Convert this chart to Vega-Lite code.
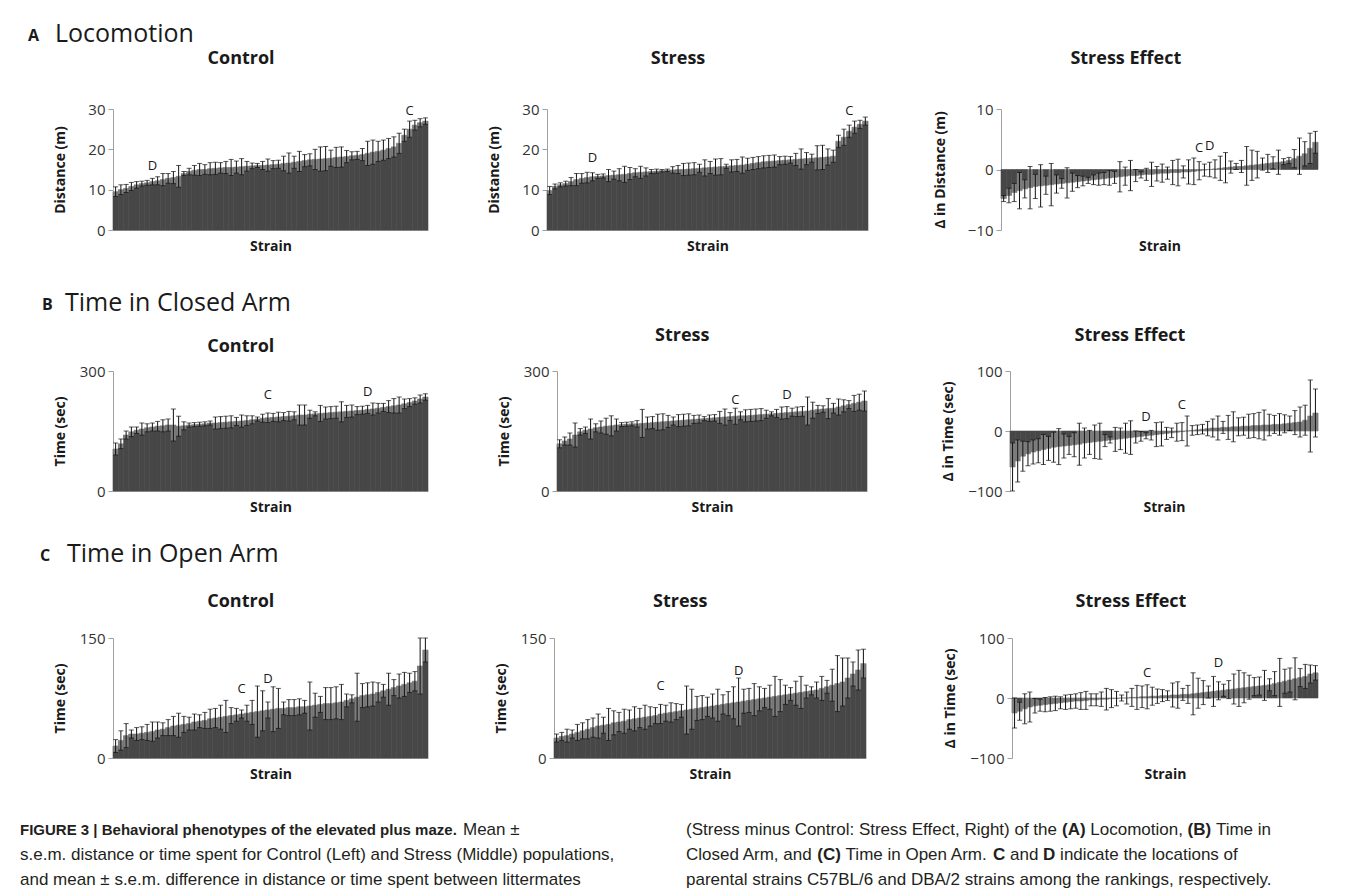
{
"$schema": "https://vega.github.io/schema/vega-lite/v6.json",
"background": "white",
"padding": {"left": 20, "top": 22, "right": 5, "bottom": 5},
"config": {
  "font": "Open Sans",
  "view": {"stroke": null},
  "title": {"font": "Open Sans", "fontSize": 18, "fontWeight": "bold", "color": "#1a1a1a", "anchor": "middle", "frame": "bounds"},
  "axis": {"labelFont": "Open Sans", "titleFont": "Open Sans", "labelColor": "#333333", "titleColor": "#1a1a1a", "domainColor": "#a0a0a0", "tickColor": "#a0a0a0", "grid": false, "labelFontSize": 15, "titleFontSize": 14, "titleFontWeight": "bold"},
  "axisX": {"labels": false, "ticks": false, "titlePadding": 9},
  "axisY": {"tickSize": 5, "labelPadding": 3, "titlePadding": 12},
  "text": {"font": "Open Sans", "fontSize": 13, "color": "#1a1a1a"}
},
"datasets": {
"A1": [{"s":1,"m":9.5,"e":1.2},{"s":2,"m":10,"e":1.2},{"s":3,"m":10.3,"e":1.0},{"s":4,"m":10.8,"e":1.0},{"s":5,"m":11.2,"e":0.8},{"s":6,"m":11.5,"e":0.6},{"s":7,"m":11.7,"e":0.6},{"s":8,"m":12,"e":0.8},{"s":9,"m":12.2,"e":1},{"s":10,"m":12.5,"e":1.5},{"s":11,"m":12.8,"e":1.2},{"s":12,"m":13,"e":1.5},{"s":13,"m":13.3,"e":2.7},{"s":14,"m":14,"e":0.5},{"s":15,"m":14.5,"e":0.8},{"s":16,"m":14.8,"e":1.2},{"s":17,"m":15,"e":1.5},{"s":18,"m":15,"e":1.2},{"s":19,"m":15.2,"e":1.5},{"s":20,"m":15.3,"e":1.5},{"s":21,"m":15.4,"e":1.3},{"s":22,"m":15.5,"e":1.5},{"s":23,"m":15.5,"e":2},{"s":24,"m":15.6,"e":1.5},{"s":25,"m":15.7,"e":2},{"s":26,"m":15.8,"e":1.2},{"s":27,"m":15.9,"e":0.7},{"s":28,"m":16,"e":0.5},{"s":29,"m":16,"e":1},{"s":30,"m":16.1,"e":1.5},{"s":31,"m":16.2,"e":1},{"s":32,"m":16.3,"e":1},{"s":33,"m":16.5,"e":1.8},{"s":34,"m":16.6,"e":2.5},{"s":35,"m":16.8,"e":1.5},{"s":36,"m":17,"e":2.5},{"s":37,"m":17.2,"e":1.5},{"s":38,"m":17.4,"e":1.5},{"s":39,"m":17.5,"e":2.5},{"s":40,"m":17.6,"e":3},{"s":41,"m":17.7,"e":3},{"s":42,"m":17.8,"e":2},{"s":43,"m":18,"e":2.5},{"s":44,"m":18.1,"e":2.5},{"s":45,"m":18.2,"e":1.5},{"s":46,"m":18.4,"e":1},{"s":47,"m":18.5,"e":1},{"s":48,"m":18.7,"e":1.5},{"s":49,"m":19,"e":3},{"s":50,"m":19.3,"e":3},{"s":51,"m":19.5,"e":2.5},{"s":52,"m":19.8,"e":2.5},{"s":53,"m":20.2,"e":2.5},{"s":54,"m":20.6,"e":2.5},{"s":55,"m":21.5,"e":2.5},{"s":56,"m":23.5,"e":1.5},{"s":57,"m":25,"e":2},{"s":58,"m":26,"e":1.2},{"s":59,"m":26.6,"e":1},{"s":60,"m":27,"e":0.8}],
"A2": [{"s":1,"m":9.8,"e":1.0},{"s":2,"m":10.8,"e":0.6},{"s":3,"m":11.2,"e":0.5},{"s":4,"m":11.5,"e":0.6},{"s":5,"m":12,"e":1},{"s":6,"m":12.5,"e":1.5},{"s":7,"m":12.8,"e":1.2},{"s":8,"m":13,"e":1.3},{"s":9,"m":13.2,"e":1},{"s":10,"m":13.3,"e":0.5},{"s":11,"m":13.4,"e":0.5},{"s":12,"m":13.5,"e":1.5},{"s":13,"m":13.6,"e":1},{"s":14,"m":13.7,"e":1.5},{"s":15,"m":13.8,"e":2},{"s":16,"m":14,"e":1.5},{"s":17,"m":14.2,"e":1},{"s":18,"m":14.3,"e":1.5},{"s":19,"m":14.4,"e":1},{"s":20,"m":14.5,"e":0.5},{"s":21,"m":14.6,"e":0.5},{"s":22,"m":14.7,"e":0.3},{"s":23,"m":14.8,"e":0.3},{"s":24,"m":14.9,"e":0.8},{"s":25,"m":15,"e":1},{"s":26,"m":15,"e":1.5},{"s":27,"m":15.1,"e":1.5},{"s":28,"m":15.2,"e":1.5},{"s":29,"m":15.3,"e":1},{"s":30,"m":15.4,"e":2},{"s":31,"m":15.5,"e":1.5},{"s":32,"m":15.6,"e":2},{"s":33,"m":15.7,"e":2},{"s":34,"m":15.8,"e":0.5},{"s":35,"m":15.9,"e":1.5},{"s":36,"m":16,"e":1.5},{"s":37,"m":16.1,"e":2},{"s":38,"m":16.3,"e":1.5},{"s":39,"m":16.5,"e":1.5},{"s":40,"m":16.7,"e":1.5},{"s":41,"m":16.9,"e":1.5},{"s":42,"m":17,"e":1.5},{"s":43,"m":17.1,"e":1.5},{"s":44,"m":17.2,"e":1},{"s":45,"m":17.3,"e":1},{"s":46,"m":17.4,"e":0.8},{"s":47,"m":17.5,"e":1.5},{"s":48,"m":17.6,"e":2.5},{"s":49,"m":17.7,"e":1.5},{"s":50,"m":17.8,"e":1},{"s":51,"m":17.9,"e":3},{"s":52,"m":18,"e":3},{"s":53,"m":18.1,"e":2},{"s":54,"m":18.3,"e":1.5},{"s":55,"m":22,"e":1.5},{"s":56,"m":23,"e":2},{"s":57,"m":24.5,"e":1.5},{"s":58,"m":25.5,"e":1.5},{"s":59,"m":26.2,"e":1},{"s":60,"m":27,"e":1}],
"A3": [{"s":1,"m":-4.8,"e":0.5},{"s":2,"m":-4.3,"e":1.2},{"s":3,"m":-3.8,"e":1.5},{"s":4,"m":-3.5,"e":3},{"s":5,"m":-3.2,"e":1.5},{"s":6,"m":-3,"e":3.5},{"s":7,"m":-2.8,"e":2},{"s":8,"m":-2.7,"e":3.5},{"s":9,"m":-2.6,"e":1.5},{"s":10,"m":-2.5,"e":3.5},{"s":11,"m":-2.4,"e":1.5},{"s":12,"m":-2.3,"e":0.8},{"s":13,"m":-2.2,"e":2.5},{"s":14,"m":-2.1,"e":1.5},{"s":15,"m":-2,"e":1},{"s":16,"m":-1.9,"e":0.8},{"s":17,"m":-1.8,"e":0.5},{"s":18,"m":-1.7,"e":0.8},{"s":19,"m":-1.6,"e":1},{"s":20,"m":-1.5,"e":1},{"s":21,"m":-1.4,"e":1.2},{"s":22,"m":-1.3,"e":1},{"s":23,"m":-1.2,"e":2.5},{"s":24,"m":-1.1,"e":1.5},{"s":25,"m":-1,"e":2.5},{"s":26,"m":-1,"e":1},{"s":27,"m":-0.9,"e":0.5},{"s":28,"m":-0.8,"e":1},{"s":29,"m":-0.8,"e":2},{"s":30,"m":-0.7,"e":1.2},{"s":31,"m":-0.6,"e":1.5},{"s":32,"m":-0.6,"e":1},{"s":33,"m":-0.5,"e":2},{"s":34,"m":-0.5,"e":2.2},{"s":35,"m":-0.4,"e":1},{"s":36,"m":-0.4,"e":2},{"s":37,"m":-0.3,"e":2.2},{"s":38,"m":-0.2,"e":1.5},{"s":39,"m":-0.1,"e":1},{"s":40,"m":0,"e":1.2},{"s":41,"m":0.1,"e":1.5},{"s":42,"m":0.2,"e":2},{"s":43,"m":0.3,"e":2.5},{"s":44,"m":0.4,"e":1},{"s":45,"m":0.5,"e":0.5},{"s":46,"m":0.5,"e":1},{"s":47,"m":0.6,"e":3.2},{"s":48,"m":0.7,"e":2.5},{"s":49,"m":0.8,"e":2.2},{"s":50,"m":0.9,"e":1},{"s":51,"m":1,"e":1.5},{"s":52,"m":1.1,"e":1},{"s":53,"m":1.2,"e":2},{"s":54,"m":1.3,"e":0.5},{"s":55,"m":1.5,"e":0.5},{"s":56,"m":1.8,"e":1.5},{"s":57,"m":2.2,"e":3},{"s":58,"m":2.6,"e":2},{"s":59,"m":3.5,"e":2.5},{"s":60,"m":4.5,"e":1.8}],
"B1": [{"s":1,"m":105,"e":15},{"s":2,"m":118,"e":12},{"s":3,"m":140,"e":10},{"s":4,"m":148,"e":12},{"s":5,"m":152,"e":8},{"s":6,"m":155,"e":15},{"s":7,"m":158,"e":10},{"s":8,"m":160,"e":10},{"s":9,"m":162,"e":12},{"s":10,"m":163,"e":15},{"s":11,"m":165,"e":15},{"s":12,"m":165,"e":40},{"s":13,"m":162,"e":25},{"s":14,"m":163,"e":10},{"s":15,"m":165,"e":5},{"s":16,"m":166,"e":5},{"s":17,"m":167,"e":5},{"s":18,"m":168,"e":5},{"s":19,"m":170,"e":5},{"s":20,"m":170,"e":15},{"s":21,"m":171,"e":15},{"s":22,"m":172,"e":15},{"s":23,"m":173,"e":15},{"s":24,"m":174,"e":10},{"s":25,"m":175,"e":15},{"s":26,"m":176,"e":12},{"s":27,"m":178,"e":10},{"s":28,"m":180,"e":5},{"s":29,"m":182,"e":10},{"s":30,"m":183,"e":12},{"s":31,"m":184,"e":10},{"s":32,"m":185,"e":12},{"s":33,"m":186,"e":10},{"s":34,"m":187,"e":12},{"s":35,"m":188,"e":10},{"s":36,"m":190,"e":25},{"s":37,"m":190,"e":25},{"s":38,"m":192,"e":10},{"s":39,"m":193,"e":5},{"s":40,"m":194,"e":20},{"s":41,"m":195,"e":15},{"s":42,"m":196,"e":15},{"s":43,"m":197,"e":15},{"s":44,"m":198,"e":25},{"s":45,"m":199,"e":15},{"s":46,"m":200,"e":15},{"s":47,"m":201,"e":10},{"s":48,"m":202,"e":10},{"s":49,"m":204,"e":10},{"s":50,"m":205,"e":15},{"s":51,"m":207,"e":12},{"s":52,"m":209,"e":10},{"s":53,"m":211,"e":15},{"s":54,"m":213,"e":18},{"s":55,"m":215,"e":20},{"s":56,"m":218,"e":12},{"s":57,"m":221,"e":10},{"s":58,"m":225,"e":8},{"s":59,"m":230,"e":10},{"s":60,"m":235,"e":8}],
"B2": [{"s":1,"m":118,"e":10},{"s":2,"m":125,"e":10},{"s":3,"m":130,"e":15},{"s":4,"m":140,"e":30},{"s":5,"m":148,"e":8},{"s":6,"m":152,"e":8},{"s":7,"m":155,"e":25},{"s":8,"m":158,"e":10},{"s":9,"m":160,"e":15},{"s":10,"m":162,"e":20},{"s":11,"m":163,"e":25},{"s":12,"m":165,"e":15},{"s":13,"m":166,"e":5},{"s":14,"m":167,"e":5},{"s":15,"m":168,"e":5},{"s":16,"m":168,"e":8},{"s":17,"m":169,"e":35},{"s":18,"m":170,"e":15},{"s":19,"m":171,"e":15},{"s":20,"m":172,"e":20},{"s":21,"m":173,"e":20},{"s":22,"m":174,"e":15},{"s":23,"m":175,"e":10},{"s":24,"m":176,"e":15},{"s":25,"m":177,"e":15},{"s":26,"m":178,"e":15},{"s":27,"m":179,"e":10},{"s":28,"m":180,"e":10},{"s":29,"m":181,"e":5},{"s":30,"m":182,"e":8},{"s":31,"m":183,"e":8},{"s":32,"m":184,"e":15},{"s":33,"m":185,"e":20},{"s":34,"m":186,"e":10},{"s":35,"m":187,"e":20},{"s":36,"m":188,"e":10},{"s":37,"m":188,"e":15},{"s":38,"m":189,"e":15},{"s":39,"m":190,"e":15},{"s":40,"m":191,"e":15},{"s":41,"m":192,"e":10},{"s":42,"m":193,"e":5},{"s":43,"m":194,"e":10},{"s":44,"m":195,"e":15},{"s":45,"m":196,"e":15},{"s":46,"m":197,"e":10},{"s":47,"m":198,"e":12},{"s":48,"m":199,"e":12},{"s":49,"m":200,"e":35},{"s":50,"m":202,"e":20},{"s":51,"m":204,"e":10},{"s":52,"m":205,"e":8},{"s":53,"m":206,"e":25},{"s":54,"m":207,"e":12},{"s":55,"m":210,"e":20},{"s":56,"m":213,"e":15},{"s":57,"m":216,"e":10},{"s":58,"m":219,"e":20},{"s":59,"m":222,"e":20},{"s":60,"m":225,"e":25}],
"B3": [{"s":1,"m":-60,"e":40},{"s":2,"m":-50,"e":35},{"s":3,"m":-42,"e":25},{"s":4,"m":-38,"e":20},{"s":5,"m":-35,"e":20},{"s":6,"m":-33,"e":20},{"s":7,"m":-31,"e":25},{"s":8,"m":-29,"e":20},{"s":9,"m":-27,"e":25},{"s":10,"m":-26,"e":30},{"s":11,"m":-25,"e":20},{"s":12,"m":-24,"e":15},{"s":13,"m":-23,"e":20},{"s":14,"m":-22,"e":35},{"s":15,"m":-20,"e":25},{"s":16,"m":-19,"e":20},{"s":17,"m":-18,"e":28},{"s":18,"m":-17,"e":30},{"s":19,"m":-16,"e":10},{"s":20,"m":-15,"e":5},{"s":21,"m":-14,"e":20},{"s":22,"m":-13,"e":18},{"s":23,"m":-12,"e":25},{"s":24,"m":-11,"e":28},{"s":25,"m":-10,"e":10},{"s":26,"m":-9,"e":8},{"s":27,"m":-8,"e":5},{"s":28,"m":-7,"e":8},{"s":29,"m":-6,"e":20},{"s":30,"m":-5,"e":20},{"s":31,"m":-4,"e":10},{"s":32,"m":-3,"e":8},{"s":33,"m":-2,"e":15},{"s":34,"m":-1,"e":15},{"s":35,"m":0,"e":25},{"s":36,"m":1,"e":8},{"s":37,"m":2,"e":8},{"s":38,"m":3,"e":8},{"s":39,"m":4,"e":12},{"s":40,"m":5,"e":15},{"s":41,"m":5,"e":20},{"s":42,"m":6,"e":10},{"s":43,"m":6,"e":20},{"s":44,"m":7,"e":25},{"s":45,"m":7,"e":15},{"s":46,"m":8,"e":15},{"s":47,"m":8,"e":20},{"s":48,"m":9,"e":20},{"s":49,"m":9,"e":22},{"s":50,"m":10,"e":25},{"s":51,"m":10,"e":18},{"s":52,"m":11,"e":15},{"s":53,"m":11,"e":18},{"s":54,"m":12,"e":15},{"s":55,"m":13,"e":12},{"s":56,"m":14,"e":20},{"s":57,"m":15,"e":25},{"s":58,"m":18,"e":25},{"s":59,"m":25,"e":60},{"s":60,"m":30,"e":40}],
"C1": [{"s":1,"m":15,"e":8},{"s":2,"m":22,"e":12},{"s":3,"m":28,"e":15},{"s":4,"m":30,"e":5},{"s":5,"m":30,"e":8},{"s":6,"m":31,"e":8},{"s":7,"m":32,"e":10},{"s":8,"m":33,"e":12},{"s":9,"m":35,"e":10},{"s":10,"m":36,"e":8},{"s":11,"m":38,"e":10},{"s":12,"m":40,"e":12},{"s":13,"m":41,"e":15},{"s":14,"m":42,"e":10},{"s":15,"m":43,"e":8},{"s":16,"m":45,"e":10},{"s":17,"m":46,"e":8},{"s":18,"m":47,"e":10},{"s":19,"m":49,"e":12},{"s":20,"m":50,"e":12},{"s":21,"m":51,"e":15},{"s":22,"m":52,"e":20},{"s":23,"m":53,"e":10},{"s":24,"m":54,"e":8},{"s":25,"m":55,"e":5},{"s":26,"m":56,"e":10},{"s":27,"m":57,"e":15},{"s":28,"m":58,"e":32},{"s":29,"m":59,"e":25},{"s":30,"m":60,"e":10},{"s":31,"m":61,"e":28},{"s":32,"m":62,"e":25},{"s":33,"m":62,"e":8},{"s":34,"m":63,"e":10},{"s":35,"m":63,"e":10},{"s":36,"m":64,"e":10},{"s":37,"m":64,"e":8},{"s":38,"m":65,"e":30},{"s":39,"m":66,"e":15},{"s":40,"m":67,"e":10},{"s":41,"m":68,"e":20},{"s":42,"m":68,"e":20},{"s":43,"m":69,"e":20},{"s":44,"m":70,"e":22},{"s":45,"m":72,"e":8},{"s":46,"m":74,"e":5},{"s":47,"m":76,"e":30},{"s":48,"m":78,"e":15},{"s":49,"m":79,"e":15},{"s":50,"m":80,"e":15},{"s":51,"m":82,"e":12},{"s":52,"m":84,"e":8},{"s":53,"m":86,"e":20},{"s":54,"m":88,"e":10},{"s":55,"m":90,"e":15},{"s":56,"m":92,"e":15},{"s":57,"m":94,"e":12},{"s":58,"m":96,"e":12},{"s":59,"m":115,"e":35},{"s":60,"m":135,"e":15}],
"C2": [{"s":1,"m":25,"e":5},{"s":2,"m":27,"e":5},{"s":3,"m":28,"e":8},{"s":4,"m":30,"e":5},{"s":5,"m":32,"e":10},{"s":6,"m":34,"e":10},{"s":7,"m":36,"e":12},{"s":8,"m":38,"e":12},{"s":9,"m":40,"e":15},{"s":10,"m":41,"e":10},{"s":11,"m":42,"e":20},{"s":12,"m":44,"e":15},{"s":13,"m":45,"e":12},{"s":14,"m":46,"e":15},{"s":15,"m":48,"e":12},{"s":16,"m":49,"e":15},{"s":17,"m":50,"e":12},{"s":18,"m":51,"e":15},{"s":19,"m":52,"e":12},{"s":20,"m":53,"e":10},{"s":21,"m":55,"e":12},{"s":22,"m":56,"e":10},{"s":23,"m":57,"e":12},{"s":24,"m":58,"e":10},{"s":25,"m":59,"e":8},{"s":26,"m":60,"e":30},{"s":27,"m":61,"e":25},{"s":28,"m":62,"e":15},{"s":29,"m":63,"e":15},{"s":30,"m":64,"e":12},{"s":31,"m":65,"e":15},{"s":32,"m":66,"e":20},{"s":33,"m":67,"e":12},{"s":34,"m":68,"e":15},{"s":35,"m":69,"e":20},{"s":36,"m":70,"e":30},{"s":37,"m":71,"e":15},{"s":38,"m":72,"e":15},{"s":39,"m":73,"e":20},{"s":40,"m":74,"e":15},{"s":41,"m":75,"e":12},{"s":42,"m":76,"e":15},{"s":43,"m":77,"e":25},{"s":44,"m":78,"e":20},{"s":45,"m":79,"e":12},{"s":46,"m":80,"e":8},{"s":47,"m":81,"e":15},{"s":48,"m":82,"e":20},{"s":49,"m":83,"e":8},{"s":50,"m":84,"e":5},{"s":51,"m":85,"e":10},{"s":52,"m":87,"e":15},{"s":53,"m":89,"e":8},{"s":54,"m":91,"e":20},{"s":55,"m":93,"e":35},{"s":56,"m":95,"e":30},{"s":57,"m":100,"e":25},{"s":58,"m":105,"e":15},{"s":59,"m":110,"e":25},{"s":60,"m":118,"e":18}],
"C3": [{"s":1,"m":-25,"e":25},{"s":2,"m":-22,"e":15},{"s":3,"m":-18,"e":25},{"s":4,"m":-15,"e":25},{"s":5,"m":-13,"e":12},{"s":6,"m":-12,"e":10},{"s":7,"m":-11,"e":12},{"s":8,"m":-10,"e":12},{"s":9,"m":-9,"e":12},{"s":10,"m":-8,"e":10},{"s":11,"m":-7,"e":12},{"s":12,"m":-6,"e":12},{"s":13,"m":-5,"e":12},{"s":14,"m":-5,"e":14},{"s":15,"m":-4,"e":15},{"s":16,"m":-3,"e":10},{"s":17,"m":-3,"e":10},{"s":18,"m":-2,"e":12},{"s":19,"m":-2,"e":18},{"s":20,"m":-1,"e":15},{"s":21,"m":-1,"e":12},{"s":22,"m":0,"e":5},{"s":23,"m":0,"e":10},{"s":24,"m":1,"e":15},{"s":25,"m":1,"e":20},{"s":26,"m":2,"e":18},{"s":27,"m":2,"e":20},{"s":28,"m":3,"e":15},{"s":29,"m":3,"e":12},{"s":30,"m":4,"e":10},{"s":31,"m":4,"e":8},{"s":32,"m":5,"e":20},{"s":33,"m":5,"e":22},{"s":34,"m":6,"e":10},{"s":35,"m":6,"e":15},{"s":36,"m":7,"e":35},{"s":37,"m":8,"e":25},{"s":38,"m":9,"e":20},{"s":39,"m":10,"e":10},{"s":40,"m":11,"e":25},{"s":41,"m":12,"e":15},{"s":42,"m":13,"e":10},{"s":43,"m":14,"e":15},{"s":44,"m":15,"e":25},{"s":45,"m":16,"e":30},{"s":46,"m":17,"e":25},{"s":47,"m":18,"e":20},{"s":48,"m":19,"e":15},{"s":49,"m":20,"e":15},{"s":50,"m":21,"e":25},{"s":51,"m":22,"e":10},{"s":52,"m":24,"e":20},{"s":53,"m":26,"e":40},{"s":54,"m":28,"e":20},{"s":55,"m":30,"e":20},{"s":56,"m":32,"e":35},{"s":57,"m":34,"e":15},{"s":58,"m":36,"e":20},{"s":59,"m":40,"e":15},{"s":60,"m":42,"e":12}],
"lab": [{"p":"A1","s":8,"t":"D","at":14.1},{"p":"A1","s":57,"t":"C","at":27.8},{"p":"A2","s":9,"t":"D","at":16.1},{"p":"A2","s":57,"t":"C","at":27.8},{"p":"A3","s":38,"t":"C","at":2.4},{"p":"A3","s":40,"t":"D","at":2.7},{"p":"B1","s":30,"t":"C","at":222},{"p":"B1","s":49,"t":"D","at":230},{"p":"B2","s":35,"t":"C","at":210},{"p":"B2","s":45,"t":"D","at":222},{"p":"B3","s":27,"t":"D","at":12},{"p":"B3","s":34,"t":"C","at":32},{"p":"C1","s":25,"t":"C","at":77},{"p":"C1","s":30,"t":"D","at":90},{"p":"C2","s":21,"t":"C","at":81},{"p":"C2","s":36,"t":"D","at":100},{"p":"C3","s":27,"t":"C","at":30},{"p":"C3","s":41,"t":"D","at":47}],
"cap": [{"c":"L","l":1,"k":"head","t":"FIGURE 3 | Behavioral phenotypes of the elevated plus maze."},{"c":"L","l":1,"k":"tail","t":"Mean ±"},{"c":"L","l":2,"k":"body","t":"s.e.m. distance or time spent for Control (Left) and Stress (Middle) populations,"},{"c":"L","l":3,"k":"body","t":"and mean ± s.e.m. difference in distance or time spent between littermates"},{"c":"R","l":3,"k":"body","t":"parental strains C57BL/6 and DBA/2 strains among the rankings, respectively."},
 {"c":"R","l":1,"k":"r1a","t":"(Stress minus Control: Stress Effect, Right) of the"},{"c":"R","l":1,"k":"r1b","t":"(A)"},{"c":"R","l":1,"k":"r1c","t":"Locomotion,"},{"c":"R","l":1,"k":"r1d","t":"(B)"},{"c":"R","l":1,"k":"r1e","t":"Time in"},
 {"c":"R","l":2,"k":"r2a","t":"Closed Arm, and"},{"c":"R","l":2,"k":"r2b","t":"(C)"},{"c":"R","l":2,"k":"r2c","t":"Time in Open Arm."},{"c":"R","l":2,"k":"r2d","t":"C"},{"c":"R","l":2,"k":"r2e","t":"and"},{"c":"R","l":2,"k":"r2f","t":"D"},{"c":"R","l":2,"k":"r2g","t":"indicate the locations of"}]
},
"columns": 1, "align": "none", "spacing": 40,
"concat": [
{"columns": 1, "align": "none", "spacing": 28,
 "concat": [
 {"columns": 1, "align": "none", "spacing": 38,
  "concat": [
{
 "title": {"text": "A", "anchor": "start", "frame": "group", "fontSize": 16, "fontWeight": "bold", "offset": -22, "dx": -85},
 "vconcat": [{
  "title": {"text": "Locomotion", "anchor": "start", "frame": "group", "fontSize": 25, "fontWeight": "normal", "offset": 3, "dx": -58},
  "spacing": 64,
  "hconcat": [
   {"spacing": 58, "hconcat": [
    {"width": 315, "height": 121, "title": {"text": "Control", "offset": 34},
     "layer": [
      {"data": {"name": "A1"}, "mark": {"type": "bar", "color": "#474747", "stroke": "#474747", "strokeWidth": 0.6},
       "encoding": {"x": {"field": "s", "type": "ordinal", "scale": {"domain": [1,2,3,4,5,6,7,8,9,10,11,12,13,14,15,16,17,18,19,20,21,22,23,24,25,26,27,28,29,30,31,32,33,34,35,36,37,38,39,40,41,42,43,44,45,46,47,48,49,50,51,52,53,54,55,56,57,58,59,60], "paddingInner": 0, "paddingOuter": 0}, "title": "Strain"},
        "y": {"field": "m", "type": "quantitative", "scale": {"domain": [0, 30], "nice": false}, "axis": {"values": [0, 10, 20, 30], "titlePadding": 20}, "title": "Distance (m)"}}},
      {"data": {"name": "A1"}, "mark": {"type": "errorbar", "color": "white", "rule": {"strokeWidth": 5, "opacity": 0.3}},
       "encoding": {"x": {"field": "s", "type": "ordinal", "title": "Strain"}, "y": {"field": "m", "type": "quantitative", "title": "Distance (m)"}, "yError": {"field": "e"}}},
      {"data": {"name": "A1"}, "mark": {"type": "errorbar", "color": "#111111", "ticks": {"size": 5}, "rule": {"strokeWidth": 1}},
       "encoding": {"x": {"field": "s", "type": "ordinal", "title": "Strain"}, "y": {"field": "m", "type": "quantitative", "title": "Distance (m)"}, "yError": {"field": "e"}}},
      {"data": {"name": "lab"}, "transform": [{"filter": "datum.p == 'A1'"}], "mark": {"type": "text", "baseline": "bottom"},
       "encoding": {"x": {"field": "s", "type": "ordinal", "title": "Strain"}, "y": {"field": "at", "type": "quantitative", "title": "Distance (m)"}, "text": {"field": "t"}}}
     ]},
    {"width": 321, "height": 121, "title": {"text": "Stress", "offset": 34},
     "layer": [
      {"data": {"name": "A2"}, "mark": {"type": "bar", "color": "#474747", "stroke": "#474747", "strokeWidth": 0.6},
       "encoding": {"x": {"field": "s", "type": "ordinal", "scale": {"domain": [1,2,3,4,5,6,7,8,9,10,11,12,13,14,15,16,17,18,19,20,21,22,23,24,25,26,27,28,29,30,31,32,33,34,35,36,37,38,39,40,41,42,43,44,45,46,47,48,49,50,51,52,53,54,55,56,57,58,59,60], "paddingInner": 0, "paddingOuter": 0}, "title": "Strain"},
        "y": {"field": "m", "type": "quantitative", "scale": {"domain": [0, 30], "nice": false}, "axis": {"values": [0, 10, 20, 30], "titlePadding": 20}, "title": "Distance (m)"}}},
      {"data": {"name": "A2"}, "mark": {"type": "errorbar", "color": "white", "rule": {"strokeWidth": 5, "opacity": 0.3}},
       "encoding": {"x": {"field": "s", "type": "ordinal", "title": "Strain"}, "y": {"field": "m", "type": "quantitative", "title": "Distance (m)"}, "yError": {"field": "e"}}},
      {"data": {"name": "A2"}, "mark": {"type": "errorbar", "color": "#111111", "ticks": {"size": 5}, "rule": {"strokeWidth": 1}},
       "encoding": {"x": {"field": "s", "type": "ordinal", "title": "Strain"}, "y": {"field": "m", "type": "quantitative", "title": "Distance (m)"}, "yError": {"field": "e"}}},
      {"data": {"name": "lab"}, "transform": [{"filter": "datum.p == 'A2'"}], "mark": {"type": "text", "baseline": "bottom"},
       "encoding": {"x": {"field": "s", "type": "ordinal", "title": "Strain"}, "y": {"field": "at", "type": "quantitative", "title": "Distance (m)"}, "text": {"field": "t"}}}
     ]}
   ]},
   {"width": 317, "height": 121, "title": {"text": "Stress Effect", "offset": 34},
    "layer": [
     {"data": {"name": "A3"}, "mark": {"type": "bar", "color": "#474747", "stroke": "#474747", "strokeWidth": 0.6},
      "encoding": {"x": {"field": "s", "type": "ordinal", "scale": {"domain": [1,2,3,4,5,6,7,8,9,10,11,12,13,14,15,16,17,18,19,20,21,22,23,24,25,26,27,28,29,30,31,32,33,34,35,36,37,38,39,40,41,42,43,44,45,46,47,48,49,50,51,52,53,54,55,56,57,58,59,60], "paddingInner": 0, "paddingOuter": 0}, "title": "Strain", "axis": {"domain": false}},
       "y": {"field": "m", "type": "quantitative", "scale": {"domain": [-10, 10], "nice": false}, "axis": {"values": [-10, -5, 0, 5, 10], "titlePadding": 20}, "title": "Δ in Distance (m)"}}},
     {"data": {"name": "A3"}, "mark": {"type": "errorbar", "color": "white", "rule": {"strokeWidth": 5, "opacity": 0.3}},
      "encoding": {"x": {"field": "s", "type": "ordinal", "title": "Strain"}, "y": {"field": "m", "type": "quantitative", "title": "Δ in Distance (m)"}, "yError": {"field": "e"}}},
     {"data": {"name": "A3"}, "mark": {"type": "errorbar", "color": "#111111", "ticks": {"size": 5}, "rule": {"strokeWidth": 1}},
      "encoding": {"x": {"field": "s", "type": "ordinal", "title": "Strain"}, "y": {"field": "m", "type": "quantitative", "title": "Δ in Distance (m)"}, "yError": {"field": "e"}}},
     {"data": {"name": "lab"}, "transform": [{"filter": "datum.p == 'A3'"}], "mark": {"type": "text", "baseline": "bottom"},
      "encoding": {"x": {"field": "s", "type": "ordinal", "title": "Strain"}, "y": {"field": "at", "type": "quantitative", "title": "Δ in Distance (m)"}, "text": {"field": "t"}}}
    ]}
  ]
 }]
},
{
 "title": {"text": "B", "anchor": "start", "frame": "group", "fontSize": 16, "fontWeight": "bold", "offset": -22, "dx": -71},
 "vconcat": [{
  "title": {"text": "Time in Closed Arm", "anchor": "start", "frame": "group", "fontSize": 25, "fontWeight": "normal", "offset": 11, "dx": -48},
  "spacing": 73,
  "hconcat": [
   {"spacing": 68, "hconcat": [
    {"width": 315, "height": 120, "title": {"text": "Control", "offset": 8},
     "layer": [
      {"data": {"name": "B1"}, "mark": {"type": "bar", "color": "#474747", "stroke": "#474747", "strokeWidth": 0.6},
       "encoding": {"x": {"field": "s", "type": "ordinal", "scale": {"domain": [1,2,3,4,5,6,7,8,9,10,11,12,13,14,15,16,17,18,19,20,21,22,23,24,25,26,27,28,29,30,31,32,33,34,35,36,37,38,39,40,41,42,43,44,45,46,47,48,49,50,51,52,53,54,55,56,57,58,59,60], "paddingInner": 0, "paddingOuter": 0}, "title": "Strain"},
        "y": {"field": "m", "type": "quantitative", "scale": {"domain": [0, 300], "nice": false}, "axis": {"values": [0, 100, 200, 300]}, "title": "Time (sec)"}}},
      {"data": {"name": "B1"}, "mark": {"type": "errorbar", "color": "white", "rule": {"strokeWidth": 5, "opacity": 0.3}},
       "encoding": {"x": {"field": "s", "type": "ordinal", "title": "Strain"}, "y": {"field": "m", "type": "quantitative", "title": "Time (sec)"}, "yError": {"field": "e"}}},
      {"data": {"name": "B1"}, "mark": {"type": "errorbar", "color": "#111111", "ticks": {"size": 5}, "rule": {"strokeWidth": 1}},
       "encoding": {"x": {"field": "s", "type": "ordinal", "title": "Strain"}, "y": {"field": "m", "type": "quantitative", "title": "Time (sec)"}, "yError": {"field": "e"}}},
      {"data": {"name": "lab"}, "transform": [{"filter": "datum.p == 'B1'"}], "mark": {"type": "text", "baseline": "bottom"},
       "encoding": {"x": {"field": "s", "type": "ordinal", "title": "Strain"}, "y": {"field": "at", "type": "quantitative", "title": "Time (sec)"}, "text": {"field": "t"}}}
     ]},
    {"width": 310, "height": 120, "title": {"text": "Stress", "offset": 19},
     "layer": [
      {"data": {"name": "B2"}, "mark": {"type": "bar", "color": "#474747", "stroke": "#474747", "strokeWidth": 0.6},
       "encoding": {"x": {"field": "s", "type": "ordinal", "scale": {"domain": [1,2,3,4,5,6,7,8,9,10,11,12,13,14,15,16,17,18,19,20,21,22,23,24,25,26,27,28,29,30,31,32,33,34,35,36,37,38,39,40,41,42,43,44,45,46,47,48,49,50,51,52,53,54,55,56,57,58,59,60], "paddingInner": 0, "paddingOuter": 0}, "title": "Strain"},
        "y": {"field": "m", "type": "quantitative", "scale": {"domain": [0, 300], "nice": false}, "axis": {"values": [0, 100, 200, 300]}, "title": "Time (sec)"}}},
      {"data": {"name": "B2"}, "mark": {"type": "errorbar", "color": "white", "rule": {"strokeWidth": 5, "opacity": 0.3}},
       "encoding": {"x": {"field": "s", "type": "ordinal", "title": "Strain"}, "y": {"field": "m", "type": "quantitative", "title": "Time (sec)"}, "yError": {"field": "e"}}},
      {"data": {"name": "B2"}, "mark": {"type": "errorbar", "color": "#111111", "ticks": {"size": 5}, "rule": {"strokeWidth": 1}},
       "encoding": {"x": {"field": "s", "type": "ordinal", "title": "Strain"}, "y": {"field": "m", "type": "quantitative", "title": "Time (sec)"}, "yError": {"field": "e"}}},
      {"data": {"name": "lab"}, "transform": [{"filter": "datum.p == 'B2'"}], "mark": {"type": "text", "baseline": "bottom"},
       "encoding": {"x": {"field": "s", "type": "ordinal", "title": "Strain"}, "y": {"field": "at", "type": "quantitative", "title": "Time (sec)"}, "text": {"field": "t"}}}
     ]}
   ]},
   {"width": 308, "height": 120, "title": {"text": "Stress Effect", "offset": 19},
    "layer": [
     {"data": {"name": "B3"}, "mark": {"type": "bar", "color": "#474747", "stroke": "#474747", "strokeWidth": 0.6},
      "encoding": {"x": {"field": "s", "type": "ordinal", "scale": {"domain": [1,2,3,4,5,6,7,8,9,10,11,12,13,14,15,16,17,18,19,20,21,22,23,24,25,26,27,28,29,30,31,32,33,34,35,36,37,38,39,40,41,42,43,44,45,46,47,48,49,50,51,52,53,54,55,56,57,58,59,60], "paddingInner": 0, "paddingOuter": 0}, "title": "Strain", "axis": {"domain": false}},
       "y": {"field": "m", "type": "quantitative", "scale": {"domain": [-100, 100], "nice": false}, "axis": {"values": [-100, 0, 100]}, "title": "Δ in Time (sec)"}}},
     {"data": {"name": "B3"}, "mark": {"type": "errorbar", "color": "white", "rule": {"strokeWidth": 5, "opacity": 0.3}},
      "encoding": {"x": {"field": "s", "type": "ordinal", "title": "Strain"}, "y": {"field": "m", "type": "quantitative", "title": "Δ in Time (sec)"}, "yError": {"field": "e"}}},
     {"data": {"name": "B3"}, "mark": {"type": "errorbar", "color": "#111111", "ticks": {"size": 5}, "rule": {"strokeWidth": 1}},
      "encoding": {"x": {"field": "s", "type": "ordinal", "title": "Strain"}, "y": {"field": "m", "type": "quantitative", "title": "Δ in Time (sec)"}, "yError": {"field": "e"}}},
     {"data": {"name": "lab"}, "transform": [{"filter": "datum.p == 'B3'"}], "mark": {"type": "text", "baseline": "bottom"},
      "encoding": {"x": {"field": "s", "type": "ordinal", "title": "Strain"}, "y": {"field": "at", "type": "quantitative", "title": "Δ in Time (sec)"}, "text": {"field": "t"}}}
    ]}
  ]
 }]
}
  ]},
{
 "title": {"text": "C", "anchor": "start", "frame": "group", "fontSize": 16, "fontWeight": "bold", "offset": -22, "dx": -73},
 "vconcat": [{
  "title": {"text": "Time in Open Arm", "anchor": "start", "frame": "group", "fontSize": 25, "fontWeight": "normal", "offset": 26, "dx": -46},
  "spacing": 76,
  "hconcat": [
   {"spacing": 65, "hconcat": [
    {"width": 315, "height": 120, "title": {"text": "Control", "offset": 20},
     "layer": [
      {"data": {"name": "C1"}, "mark": {"type": "bar", "color": "#474747", "stroke": "#474747", "strokeWidth": 0.6},
       "encoding": {"x": {"field": "s", "type": "ordinal", "scale": {"domain": [1,2,3,4,5,6,7,8,9,10,11,12,13,14,15,16,17,18,19,20,21,22,23,24,25,26,27,28,29,30,31,32,33,34,35,36,37,38,39,40,41,42,43,44,45,46,47,48,49,50,51,52,53,54,55,56,57,58,59,60], "paddingInner": 0, "paddingOuter": 0}, "title": "Strain"},
        "y": {"field": "m", "type": "quantitative", "scale": {"domain": [0, 150], "nice": false}, "axis": {"values": [0, 50, 100, 150]}, "title": "Time (sec)"}}},
      {"data": {"name": "C1"}, "mark": {"type": "errorbar", "color": "white", "rule": {"strokeWidth": 5, "opacity": 0.3}},
       "encoding": {"x": {"field": "s", "type": "ordinal", "title": "Strain"}, "y": {"field": "m", "type": "quantitative", "title": "Time (sec)"}, "yError": {"field": "e"}}},
      {"data": {"name": "C1"}, "mark": {"type": "errorbar", "color": "#111111", "ticks": {"size": 5}, "rule": {"strokeWidth": 1}},
       "encoding": {"x": {"field": "s", "type": "ordinal", "title": "Strain"}, "y": {"field": "m", "type": "quantitative", "title": "Time (sec)"}, "yError": {"field": "e"}}},
      {"data": {"name": "lab"}, "transform": [{"filter": "datum.p == 'C1'"}], "mark": {"type": "text", "baseline": "bottom"},
       "encoding": {"x": {"field": "s", "type": "ordinal", "title": "Strain"}, "y": {"field": "at", "type": "quantitative", "title": "Time (sec)"}, "text": {"field": "t"}}}
     ]},
    {"width": 312, "height": 120, "title": {"text": "Stress", "offset": 20},
     "layer": [
      {"data": {"name": "C2"}, "mark": {"type": "bar", "color": "#474747", "stroke": "#474747", "strokeWidth": 0.6},
       "encoding": {"x": {"field": "s", "type": "ordinal", "scale": {"domain": [1,2,3,4,5,6,7,8,9,10,11,12,13,14,15,16,17,18,19,20,21,22,23,24,25,26,27,28,29,30,31,32,33,34,35,36,37,38,39,40,41,42,43,44,45,46,47,48,49,50,51,52,53,54,55,56,57,58,59,60], "paddingInner": 0, "paddingOuter": 0}, "title": "Strain"},
        "y": {"field": "m", "type": "quantitative", "scale": {"domain": [0, 150], "nice": false}, "axis": {"values": [0, 50, 100, 150]}, "title": "Time (sec)"}}},
      {"data": {"name": "C2"}, "mark": {"type": "errorbar", "color": "white", "rule": {"strokeWidth": 5, "opacity": 0.3}},
       "encoding": {"x": {"field": "s", "type": "ordinal", "title": "Strain"}, "y": {"field": "m", "type": "quantitative", "title": "Time (sec)"}, "yError": {"field": "e"}}},
      {"data": {"name": "C2"}, "mark": {"type": "errorbar", "color": "#111111", "ticks": {"size": 5}, "rule": {"strokeWidth": 1}},
       "encoding": {"x": {"field": "s", "type": "ordinal", "title": "Strain"}, "y": {"field": "m", "type": "quantitative", "title": "Time (sec)"}, "yError": {"field": "e"}}},
      {"data": {"name": "lab"}, "transform": [{"filter": "datum.p == 'C2'"}], "mark": {"type": "text", "baseline": "bottom"},
       "encoding": {"x": {"field": "s", "type": "ordinal", "title": "Strain"}, "y": {"field": "at", "type": "quantitative", "title": "Time (sec)"}, "text": {"field": "t"}}}
     ]}
   ]},
   {"width": 306, "height": 120, "title": {"text": "Stress Effect", "offset": 20},
    "layer": [
     {"data": {"name": "C3"}, "mark": {"type": "bar", "color": "#474747", "stroke": "#474747", "strokeWidth": 0.6},
      "encoding": {"x": {"field": "s", "type": "ordinal", "scale": {"domain": [1,2,3,4,5,6,7,8,9,10,11,12,13,14,15,16,17,18,19,20,21,22,23,24,25,26,27,28,29,30,31,32,33,34,35,36,37,38,39,40,41,42,43,44,45,46,47,48,49,50,51,52,53,54,55,56,57,58,59,60], "paddingInner": 0, "paddingOuter": 0}, "title": "Strain", "axis": {"domain": false}},
       "y": {"field": "m", "type": "quantitative", "scale": {"domain": [-100, 100], "nice": false}, "axis": {"values": [-100, -50, 0, 50, 100]}, "title": "Δ in Time (sec)"}}},
     {"data": {"name": "C3"}, "mark": {"type": "errorbar", "color": "white", "rule": {"strokeWidth": 5, "opacity": 0.3}},
      "encoding": {"x": {"field": "s", "type": "ordinal", "title": "Strain"}, "y": {"field": "m", "type": "quantitative", "title": "Δ in Time (sec)"}, "yError": {"field": "e"}}},
     {"data": {"name": "C3"}, "mark": {"type": "errorbar", "color": "#111111", "ticks": {"size": 5}, "rule": {"strokeWidth": 1}},
      "encoding": {"x": {"field": "s", "type": "ordinal", "title": "Strain"}, "y": {"field": "m", "type": "quantitative", "title": "Δ in Time (sec)"}, "yError": {"field": "e"}}},
     {"data": {"name": "lab"}, "transform": [{"filter": "datum.p == 'C3'"}], "mark": {"type": "text", "baseline": "bottom"},
      "encoding": {"x": {"field": "s", "type": "ordinal", "title": "Strain"}, "y": {"field": "at", "type": "quantitative", "title": "Δ in Time (sec)"}, "text": {"field": "t"}}}
    ]}
  ]
 }]
}
 ]},
{
 "width": 1150, "height": 50,
 "data": {"name": "cap"},
 "encoding": {
  "x": {"field": "c", "type": "nominal", "scale": {"type": "point", "range": [-93, 573], "padding": 0}, "axis": null},
  "y": {"field": "l", "type": "ordinal", "scale": {"type": "point", "range": [0, 50], "padding": 0}, "axis": null},
  "text": {"field": "t"}
 },
 "layer": [
  {"transform": [{"filter": "datum.k == 'body' || datum.k == 'r1a' || datum.k == 'r2a'"}], "mark": {"type": "text", "align": "left", "baseline": "middle", "font": "Liberation Sans", "fontSize": 17, "color": "#231f20"}},
  {"transform": [{"filter": "datum.k == 'head'"}], "mark": {"type": "text", "align": "left", "baseline": "middle", "font": "Liberation Sans", "fontSize": 15, "fontWeight": "bold", "color": "#231f20"}},
  {"transform": [{"filter": "datum.k == 'tail'"}], "mark": {"type": "text", "align": "left", "baseline": "middle", "dx": 443, "font": "Liberation Sans", "fontSize": 17, "color": "#231f20"}},
  {"transform": [{"filter": "datum.k == 'r1b'"}], "mark": {"type": "text", "align": "left", "baseline": "middle", "dx": 376, "font": "Liberation Sans", "fontSize": 17, "fontWeight": "bold", "color": "#231f20"}},
  {"transform": [{"filter": "datum.k == 'r1c'"}], "mark": {"type": "text", "align": "left", "baseline": "middle", "dx": 404.3, "font": "Liberation Sans", "fontSize": 17, "color": "#231f20"}},
  {"transform": [{"filter": "datum.k == 'r1d'"}], "mark": {"type": "text", "align": "left", "baseline": "middle", "dx": 501.6, "font": "Liberation Sans", "fontSize": 17, "fontWeight": "bold", "color": "#231f20"}},
  {"transform": [{"filter": "datum.k == 'r1e'"}], "mark": {"type": "text", "align": "left", "baseline": "middle", "dx": 529.9, "font": "Liberation Sans", "fontSize": 17, "color": "#231f20"}},
  {"transform": [{"filter": "datum.k == 'r2b'"}], "mark": {"type": "text", "align": "left", "baseline": "middle", "dx": 131.3, "font": "Liberation Sans", "fontSize": 17, "fontWeight": "bold", "color": "#231f20"}},
  {"transform": [{"filter": "datum.k == 'r2c'"}], "mark": {"type": "text", "align": "left", "baseline": "middle", "dx": 159.6, "font": "Liberation Sans", "fontSize": 17, "color": "#231f20"}},
  {"transform": [{"filter": "datum.k == 'r2d'"}], "mark": {"type": "text", "align": "left", "baseline": "middle", "dx": 307, "font": "Liberation Sans", "fontSize": 17, "fontWeight": "bold", "color": "#231f20"}},
  {"transform": [{"filter": "datum.k == 'r2e'"}], "mark": {"type": "text", "align": "left", "baseline": "middle", "dx": 324, "font": "Liberation Sans", "fontSize": 17, "color": "#231f20"}},
  {"transform": [{"filter": "datum.k == 'r2f'"}], "mark": {"type": "text", "align": "left", "baseline": "middle", "dx": 357.1, "font": "Liberation Sans", "fontSize": 17, "fontWeight": "bold", "color": "#231f20"}},
  {"transform": [{"filter": "datum.k == 'r2g'"}], "mark": {"type": "text", "align": "left", "baseline": "middle", "dx": 374.1, "font": "Liberation Sans", "fontSize": 17, "color": "#231f20"}}
 ]
}
]
}
